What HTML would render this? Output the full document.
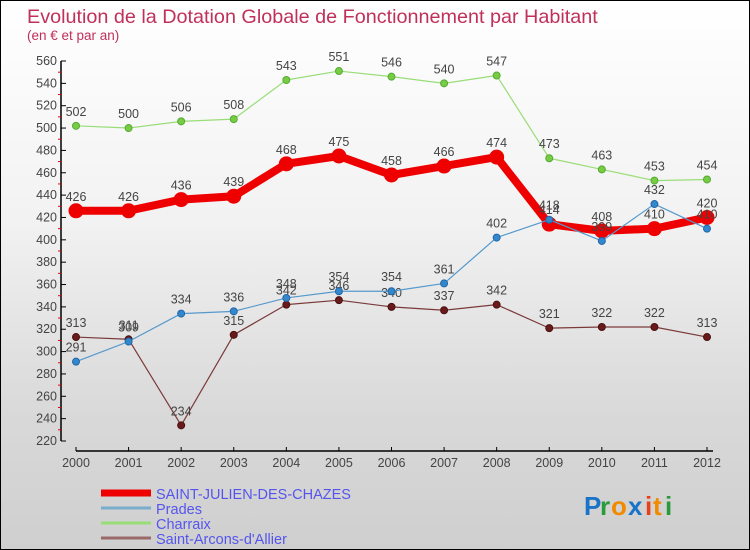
<!DOCTYPE html>
<html><head><meta charset="utf-8"><style>
body{margin:0}
#c{width:748px;height:548px;border:1px solid #000;background:linear-gradient(#fff 0%,#f2f2f2 40%,#d9d9d9 75%,#cfcfcf 100%);position:relative;font-family:"Liberation Sans",sans-serif;overflow:hidden}
svg text{font-family:"Liberation Sans",sans-serif}
</style></head><body>
<div id="c">
<svg id="s" width="748" height="548">
<text x="26" y="22" font-size="19.8" fill="#c0305a">Evolution de la Dotation Globale de Fonctionnement par Habitant</text>
<text x="26" y="39" font-size="13.5" fill="#c0305a">(en € et par an)</text>
<g font-size="26" font-weight="bold">
<text x="583" y="514" fill="#1a73c8">P</text><text x="599" y="514" fill="#2a9a3a">r</text><text x="610" y="514" fill="#f28a00">o</text><text x="627" y="514" fill="#1a73c8">x</text><text x="644" y="514" fill="#e8401c">i</text><text x="652" y="514" fill="#f28a00">t</text><text x="664" y="514" fill="#2a9a3a">i</text>
</g>
</svg>
</div>
<script>
const years=[2000,2001,2002,2003,2004,2005,2006,2007,2008,2009,2010,2011,2012];
const stJulien=[426,426,436,439,468,475,458,466,474,414,408,410,420];
const prades=[291,309,334,336,348,354,354,361,402,418,399,432,410];
const charraix=[502,500,506,508,543,551,546,540,547,473,463,453,454];
const arcons=[313,311,234,315,342,346,340,337,342,321,322,322,313];
const yTicks=[220,240,260,280,300,320,340,360,380,400,420,440,460,480,500,520,540,560];
const NS="http://www.w3.org/2000/svg";
const svg=document.getElementById('s');
const x=i=>75+i*(706-75)/(years.length-1);
const y=v=>440-(v-220)*(380/340);
function el(t,a,p){const e=document.createElementNS(NS,t);for(const k in a)e.setAttribute(k,a[k]);(p||svg).appendChild(e);return e;}
const ax=el('g',{});


el('line',{x1:60,y1:60,x2:60,y2:440,stroke:'#000','stroke-width':1.5},ax);
yTicks.forEach(v=>{
  el('line',{x1:60,y1:y(v),x2:65,y2:y(v),stroke:'#000'},ax);
  if(v<560) el('line',{x1:57,y1:y(v+10),x2:60,y2:y(v+10),stroke:'#e00'},ax);
  const t=el('text',{x:56,y:y(v)+4,'font-size':12.5,fill:'#444','text-anchor':'end'},ax);t.textContent=v;
});
const xa=el('g',{});


el('line',{x1:75,y1:450,x2:712,y2:450,stroke:'#000','stroke-width':1.5},xa);
years.forEach((yr,i)=>{
  el('line',{x1:x(i),y1:446,x2:x(i),y2:450,stroke:'#000'},xa);
  const t=el('text',{x:x(i),y:466,'font-size':12.5,fill:'#444','text-anchor':'middle'},xa);t.textContent=yr;
});
function series(name,data,color,w,r,dot,stroke){
  const g=el('g',{});
  
  
  el('polyline',{points:data.map((v,i)=>x(i)+','+y(v)).join(' '),fill:'none',stroke:color,'stroke-width':w,'stroke-linejoin':'round'},g);
  data.forEach((v,i)=>{
    el('circle',{cx:x(i),cy:y(v),r:r,fill:dot,stroke:stroke,'stroke-width':1},g);
    const t=el('text',{x:x(i),y:y(v)-10,'font-size':12.5,fill:'#444','text-anchor':'middle'},g);t.textContent=v;
  });
}
series('series-charraix',charraix,'#99dd77',1.2,3.5,'#77cc44','#55aa33');
series('series-saint-arcons',arcons,'#7a3a3a',1.2,3.5,'#6a1a1a','#4a1010');
series('series-st-julien',stJulien,'#ee0000',8,7,'#ee0000','#ee0000');
series('series-prades',prades,'#5599cc',1.2,3.5,'#3388cc','#2266aa');
const lg=[['SAINT-JULIEN-DES-CHAZES','#ee0000',7],['Prades','#7aaccc',3],['Charraix','#99dd77',3],['Saint-Arcons-d\'Allier','#9a6a6a',3]];
lg.forEach((l,i)=>{
  const g=el('g',{});
  
  
  const yy=492+i*15;
  el('line',{x1:100,y1:yy,x2:150,y2:yy,stroke:l[1],'stroke-width':l[2]},g);
  const t=el('text',{x:155,y:yy+6,'font-size':14.5,fill:'#5555ee'},g);t.textContent=l[0];
});
</script>
</body></html>
